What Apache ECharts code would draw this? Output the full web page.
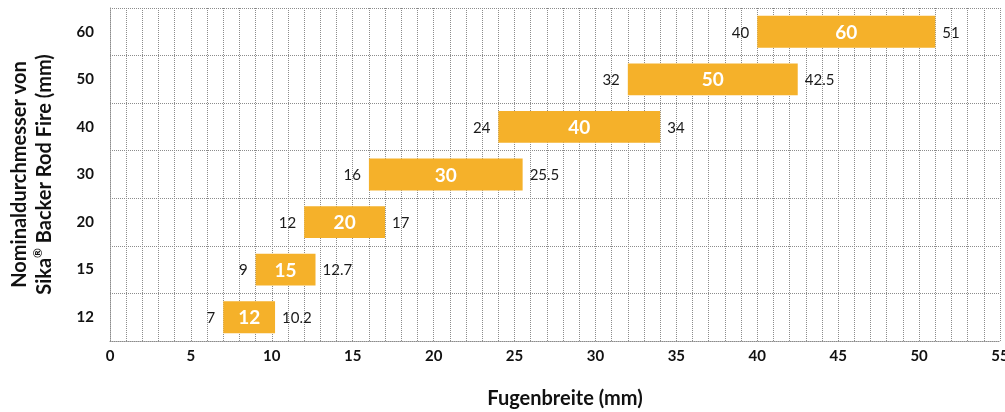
<!DOCTYPE html>
<html>
<head>
<meta charset="utf-8">
<script src="https://cdn.jsdelivr.net/npm/echarts@6/dist/echarts.min.js"></script>
<style>
  html, body { margin: 0; padding: 0; background: #fff; }
  #chart { width: 1005px; height: 412px; }
</style>
</head>
<body>
<div id="chart"></div>
<script>
// Nominal diameters (categories) and the joint width range each covers
const diameters = ['12', '15', '20', '30', '40', '50', '60'];
const widthMin = [7, 9, 12, 16, 24, 32, 40];
const widthMax = [10.2, 12.7, 17, 25.5, 34, 42.5, 51];

const FONT = 'Lato, "Open Sans", sans-serif';
const BAR_COLOR = '#F5B12A';
const GRID_COLOR = '#8c8c8c';

const rangeData = diameters.map((d, i) => [widthMin[i], widthMax[i], i, d]);

function renderRange(params, api) {
  const lo = api.value(0);
  const hi = api.value(1);
  const cat = api.value(2);
  const p0 = api.coord([lo, cat]);
  const p1 = api.coord([hi, cat]);
  const band = api.size([0, 1])[1];
  const h = band * 0.67;
  const children = [
    {
      type: 'rect',
      shape: { x: p0[0], y: p0[1] - h / 2, width: p1[0] - p0[0], height: h },
      style: { fill: BAR_COLOR }
    },
    {
      type: 'text',
      style: {
        x: (p0[0] + p1[0]) / 2, y: p0[1] + 1,
        text: rangeData[params.dataIndex][3],
        fill: '#fff', font: 'bold 19px ' + FONT,
        align: 'center', verticalAlign: 'middle'
      }
    },
    {
      type: 'text',
      style: {
        x: p0[0] - 8, y: p0[1] + 1,
        text: String(lo),
        fill: '#1a1a1a', font: '15px ' + FONT,
        align: 'right', verticalAlign: 'middle'
      }
    },
    {
      type: 'text',
      style: {
        x: p1[0] + 7, y: p0[1] + 1,
        text: String(hi),
        fill: '#1a1a1a', font: '15px ' + FONT,
        align: 'left', verticalAlign: 'middle'
      }
    }
  ];
  return { type: 'group', children: children };
}

const chart = echarts.init(document.getElementById('chart'));
chart.setOption({
  animation: false,
  grid: { left: 110, right: 5, top: 8, bottom: 71, outerBoundsMode: 'none', containLabel: false },
  xAxis: {
    type: 'value',
    min: 0, max: 55, interval: 5,
    name: 'Fugenbreite (mm)',
    nameLocation: 'middle',
    nameGap: 48,
    nameTextStyle: { fontFamily: FONT, fontWeight: 'bold', fontSize: 20, color: '#111', padding: [0, 0, 0, 20] },
    axisLine: { show: true, lineStyle: { color: GRID_COLOR, type: 'dotted' } },
    axisTick: { show: false },
    axisLabel: { fontFamily: FONT, fontWeight: 'bold', fontSize: 15, color: '#111', margin: 8 },
    splitLine: { show: true, lineStyle: { color: GRID_COLOR, type: 'dotted', width: 1 } },
    minorTick: { show: false, splitNumber: 5 },
    minorSplitLine: { show: true, lineStyle: { color: GRID_COLOR, type: 'dotted', width: 1 } }
  },
  yAxis: {
    type: 'category',
    data: diameters,
    name: 'Nominaldurchmesser von\nSika{sup|®} Backer Rod Fire (mm)',
    nameLocation: 'middle',
    nameGap: 53,
    nameTextStyle: {
      fontFamily: FONT, fontWeight: 'bold', fontSize: 20, color: '#111', lineHeight: 25,
      rich: {
        sup: { fontFamily: FONT, fontWeight: 'bold', fontSize: 12, color: '#111', verticalAlign: 'top', lineHeight: 25, padding: [0, 0, 8, 0] }
      }
    },
    axisLine: { show: true, lineStyle: { color: GRID_COLOR, type: 'dotted' } },
    axisTick: { show: false },
    axisLabel: { fontFamily: FONT, fontWeight: 'bold', fontSize: 15, color: '#111', margin: 16 },
    splitLine: { show: true, lineStyle: { color: GRID_COLOR, type: 'dotted', width: 1 } }
  },
  series: [{
    type: 'custom',
    renderItem: renderRange,
    encode: { x: [0, 1], y: 2 },
    data: rangeData
  }]
});
</script>
</body>
</html>
